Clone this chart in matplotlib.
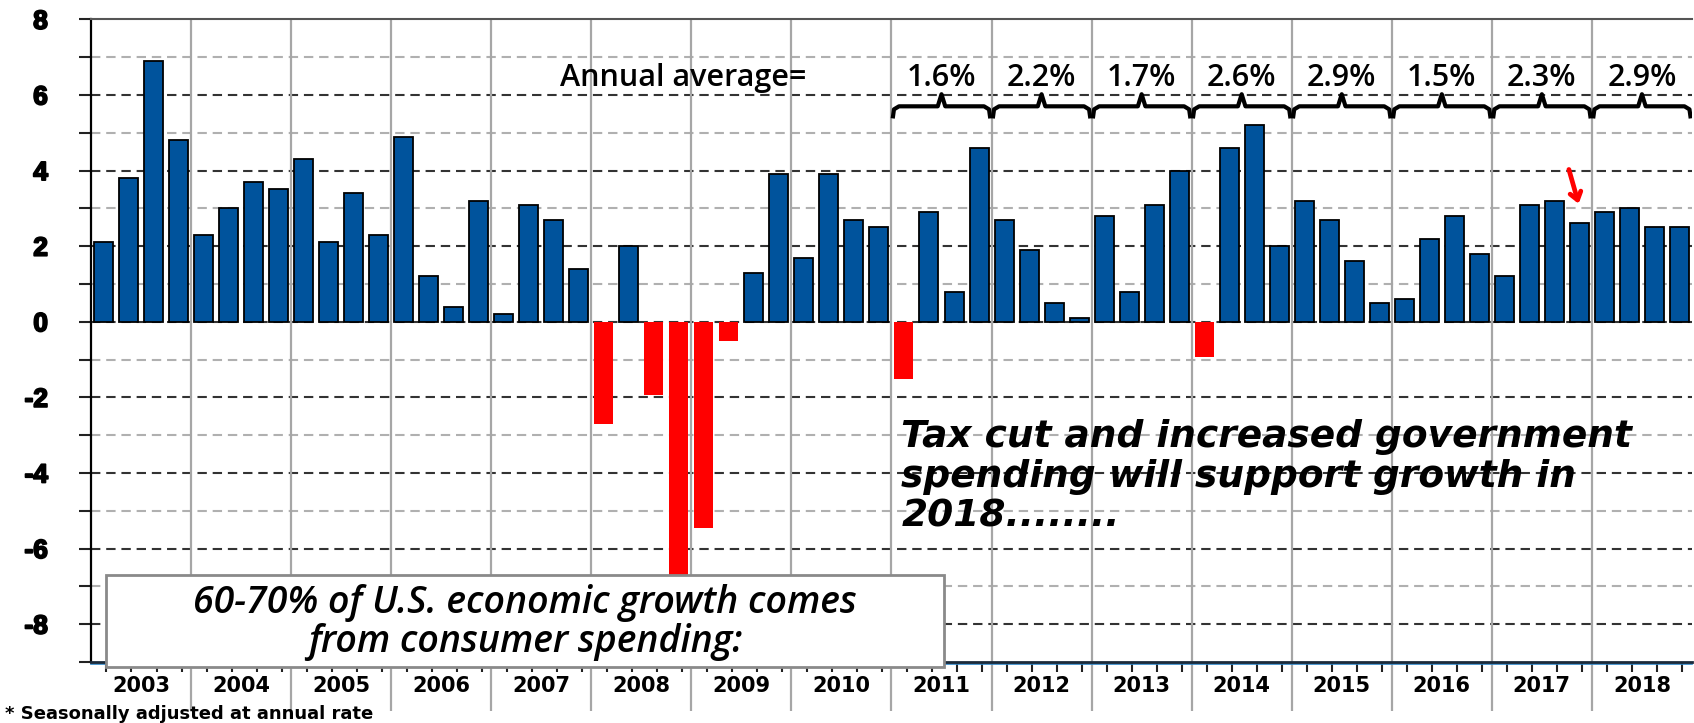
import matplotlib
matplotlib.use('Agg')
import matplotlib.pyplot as plt
import matplotlib.patheffects as pe
from matplotlib.patches import Rectangle
from matplotlib.font_manager import FontProperties
import numpy as np

# quarterly real consumer spending growth, % (seasonally adjusted annual rate)
years = list(range(2003, 2019))
growth = [
    2.1, 3.8, 6.9, 4.8,      # 2003
    2.3, 3.0, 3.7, 3.5,      # 2004
    4.3, 2.1, 3.4, 2.3,      # 2005
    4.9, 1.2, 0.4, 3.2,      # 2006
    0.2, 3.1, 2.7, 1.4,      # 2007
    -2.7, 2.0, -1.95, -7.2,  # 2008
    -5.45, -0.52, 1.3, 3.9,  # 2009
    1.7, 3.9, 2.7, 2.5,      # 2010
    -1.52, 2.9, 0.8, 4.6,    # 2011
    2.7, 1.9, 0.5, 0.1,      # 2012
    2.8, 0.8, 3.1, 4.0,      # 2013
    -0.94, 4.6, 5.2, 2.0,    # 2014
    3.2, 2.7, 1.6, 0.5,      # 2015
    0.6, 2.2, 2.8, 1.8,      # 2016
    1.2, 3.1, 3.2, 2.6,      # 2017
    2.9, 3.0, 2.5, 2.5,      # 2018
]
y_ticks = [-8, -6, -4, -2, 0, 2, 4, 6, 8]
avg_years = [2011, 2012, 2013, 2014, 2015, 2016, 2017, 2018]
avg_labels = ['1.6%', '2.2%', '1.7%', '2.6%', '2.9%', '1.5%', '2.3%', '2.9%']

BLUE = '#00539c'

plt.rcParams['font.family'] = 'DejaVu Sans'
plt.rcParams['font.weight'] = 'bold'

fig = plt.figure(figsize=(16.94, 7.23), dpi=100)
ax = fig.add_axes([0.0537, 0.0844, 0.9451, 0.8888])

n = len(growth)
x = np.arange(n) + 0.5
g = np.array(growth)
pos = g >= 0
ax.bar(x[pos], g[pos], width=0.76, color=BLUE, edgecolor='black', linewidth=1.3, zorder=3)
ax.bar(x[~pos], g[~pos], width=0.76, color='#ff0000', linewidth=0, zorder=3)

ax.set_xlim(0, n)
ax.set_ylim(-9, 8)

# horizontal grid: dark dashes on even values, light on odd
for v in range(-8, 8):
    if v % 2 == 0:
        ax.axhline(v, color='#333333', lw=1.5, dashes=(4.5, 2.8), zorder=1)
    else:
        ax.axhline(v, color='#b0b0b0', lw=1.5, dashes=(4.5, 2.8), zorder=1)

# year separators, running down into the label row
bounds = np.arange(4, n, 4)
ax.vlines(bounds, -10.3, 8, colors='#a6a6a6', lw=1.6, zorder=2, clip_on=False)

ax.set_yticks(range(-9, 8, 2), minor=True)
ax.tick_params(axis='y', which='both', direction='out', length=9, width=1.5,
               color='#222222', pad=22)
tick_font = FontProperties(family='Liberation Sans', weight='bold', size=19)
ax.set_yticks(y_ticks)
ax.set_yticklabels([str(v) for v in y_ticks], fontproperties=tick_font)
for lab in ax.get_yticklabels():
    lab.set_path_effects([pe.withStroke(linewidth=1.3, foreground='black')])

ax.set_xticks(x + 0.12)
ax.set_xticklabels([])
ax.tick_params(axis='x', direction='out', length=7, width=1.5, color='#222222')

ax.spines['right'].set_visible(False)
ax.spines['top'].set_color('#555555')
ax.spines['top'].set_linewidth(1.5)
ax.spines['left'].set_linewidth(1.6)
ax.spines['bottom'].set_linewidth(2.0)
ax.spines['bottom'].set_color('#1b2a3a')
ax.axhline(-9.045, color='#2e86c8', lw=1.2, zorder=2, clip_on=False)

for i, yr in enumerate(years):
    ax.text(4 * i + 2, -9.63, str(yr), ha='center', va='center', fontsize=15,
            fontweight='bold', clip_on=False)

fig.text(0.003, 0.006, '* Seasonally adjusted at annual rate', fontsize=13,
         fontweight='bold', ha='left', va='baseline')

# annual average braces
ax.text(18.75, 6.45, 'Annual average=', fontsize=22, family='Open Sans',
        fontweight='semibold', ha='left', va='center', zorder=4)
for yr, lab in zip(avg_years, avg_labels):
    x0 = (yr - years[0]) * 4
    x1 = x0 + 4
    xc = x0 + 2
    bx = [x0 + 0.05, x0 + 0.1, x0 + 0.3, xc - 0.15, xc, xc + 0.15, x1 - 0.3, x1 - 0.1, x1 - 0.05]
    by = [5.38, 5.62, 5.7, 5.7, 6.02, 5.7, 5.7, 5.62, 5.38]
    ax.plot(bx, by, color='black', lw=3, solid_capstyle='butt', zorder=4)
    ax.text(xc, 6.45, lab, fontsize=22, family='Open Sans', fontweight='semibold',
            ha='center', va='center', zorder=4)

ax.text(32.4, -4.1, 'Tax cut and increased government\nspending will support growth in\n2018........',
        fontsize=27, fontweight='bold', style='italic',
        ha='left', va='center', linespacing=1.15, zorder=4)

# red arrow at 2017 Q4
ax.annotate('', xy=(59.5, 3.05), xytext=(59.05, 4.1),
            arrowprops=dict(arrowstyle='->,head_length=0.55,head_width=0.4',
                            color='#ff0000', lw=3.4), zorder=6)

box = Rectangle((0.6, -9.13), 33.5, 2.44, facecolor='white', edgecolor='#8a8a8a',
                lw=2, zorder=7, clip_on=False)
ax.add_patch(box)
ax.text(17.35, -7.96, '60-70% of U.S. economic growth comes\nfrom consumer spending:',
        fontsize=27, family='Open Sans', fontweight='semibold', style='italic',
        ha='center', va='center', linespacing=1.05, zorder=8)

fig.savefig('out.png', dpi=100)
